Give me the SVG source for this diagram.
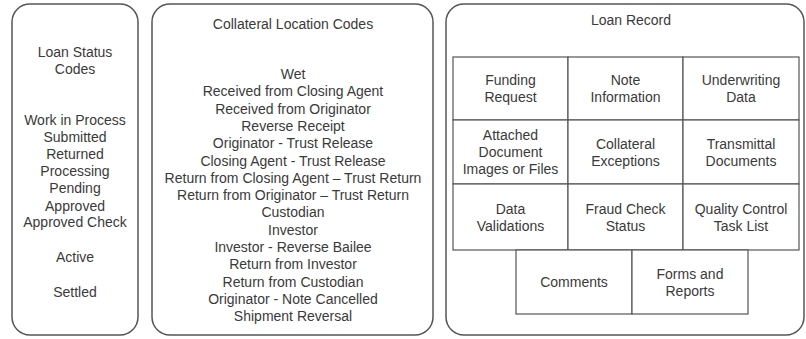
<svg xmlns="http://www.w3.org/2000/svg" width="806" height="339" viewBox="0 0 806 339">
<style>
  .panel { fill: #ffffff; stroke: #555555; stroke-width: 1.5; }
  .cell { fill: #ffffff; stroke: #555555; stroke-width: 1.2; }
  text { font-family: "Liberation Sans", Arial, sans-serif; font-size: 14px; fill: #3a3a3a; text-anchor: middle; }
</style>
<rect width="806" height="339" fill="#ffffff"/>

<g id="loan-status-codes">
  <rect class="panel" x="12" y="4" width="126" height="331" rx="18" ry="18"/>
  <text x="75" y="57">Loan Status</text>
  <text x="75" y="74">Codes</text>
  <text x="75" y="125">Work in Process</text>
  <text x="75" y="142">Submitted</text>
  <text x="75" y="159">Returned</text>
  <text x="75" y="176">Processing</text>
  <text x="75" y="193">Pending</text>
  <text x="75" y="211">Approved</text>
  <text x="75" y="227">Approved Check</text>
  <text x="75" y="262">Active</text>
  <text x="75" y="297">Settled</text>
</g>

<g id="collateral-location-codes">
  <rect class="panel" x="152" y="4" width="281" height="331" rx="18" ry="18"/>
  <text x="293" y="29">Collateral Location Codes</text>
  <text x="293" y="79">Wet</text>
  <text x="293" y="96.3">Received from Closing Agent</text>
  <text x="293" y="113.6">Received from Originator</text>
  <text x="293" y="130.9">Reverse Receipt</text>
  <text x="293" y="148.2">Originator - Trust Release</text>
  <text x="293" y="165.5">Closing Agent - Trust Release</text>
  <text x="293" y="182.8">Return from Closing Agent – Trust Return</text>
  <text x="293" y="200.1">Return from Originator – Trust Return</text>
  <text x="293" y="217.4">Custodian</text>
  <text x="293" y="234.7">Investor</text>
  <text x="293" y="252">Investor - Reverse Bailee</text>
  <text x="293" y="269.3">Return from Investor</text>
  <text x="293" y="286.6">Return from Custodian</text>
  <text x="293" y="303.9">Originator - Note Cancelled</text>
  <text x="293" y="321.2">Shipment Reversal</text>
</g>

<g id="loan-record">
  <rect class="panel" x="446" y="4" width="358" height="331" rx="18" ry="18"/>
  <text x="631" y="25">Loan Record</text>
</g>

<g id="funding-request">
  <rect class="cell" x="453" y="57" width="115" height="63"/>
  <text x="510.5" y="85">Funding</text>
  <text x="510.5" y="102">Request</text>
</g>
<g id="note-information">
  <rect class="cell" x="568" y="57" width="115" height="63"/>
  <text x="625.5" y="85">Note</text>
  <text x="625.5" y="102">Information</text>
</g>
<g id="underwriting-data">
  <rect class="cell" x="683" y="57" width="116" height="63"/>
  <text x="741" y="85">Underwriting</text>
  <text x="741" y="102">Data</text>
</g>

<g id="attached-document-images">
  <rect class="cell" x="453" y="120" width="115" height="64"/>
  <text x="510.5" y="140">Attached</text>
  <text x="510.5" y="157">Document</text>
  <text x="510.5" y="174">Images or Files</text>
</g>
<g id="collateral-exceptions">
  <rect class="cell" x="568" y="120" width="115" height="64"/>
  <text x="625.5" y="148.5">Collateral</text>
  <text x="625.5" y="165.5">Exceptions</text>
</g>
<g id="transmittal-documents">
  <rect class="cell" x="683" y="120" width="116" height="64"/>
  <text x="741" y="148.5">Transmittal</text>
  <text x="741" y="165.5">Documents</text>
</g>

<g id="data-validations">
  <rect class="cell" x="453" y="184" width="115" height="66"/>
  <text x="510.5" y="213.5">Data</text>
  <text x="510.5" y="230.5">Validations</text>
</g>
<g id="fraud-check-status">
  <rect class="cell" x="568" y="184" width="115" height="66"/>
  <text x="625.5" y="213.5">Fraud Check</text>
  <text x="625.5" y="230.5">Status</text>
</g>
<g id="quality-control-task-list">
  <rect class="cell" x="683" y="184" width="116" height="66"/>
  <text x="741" y="213.5">Quality Control</text>
  <text x="741" y="230.5">Task List</text>
</g>

<g id="comments">
  <rect class="cell" x="516" y="250" width="116" height="64"/>
  <text x="574" y="287">Comments</text>
</g>
<g id="forms-and-reports">
  <rect class="cell" x="632" y="250" width="116" height="64"/>
  <text x="690" y="278.5">Forms and</text>
  <text x="690" y="295.5">Reports</text>
</g>

<g id="connectors"></g>
</svg>
